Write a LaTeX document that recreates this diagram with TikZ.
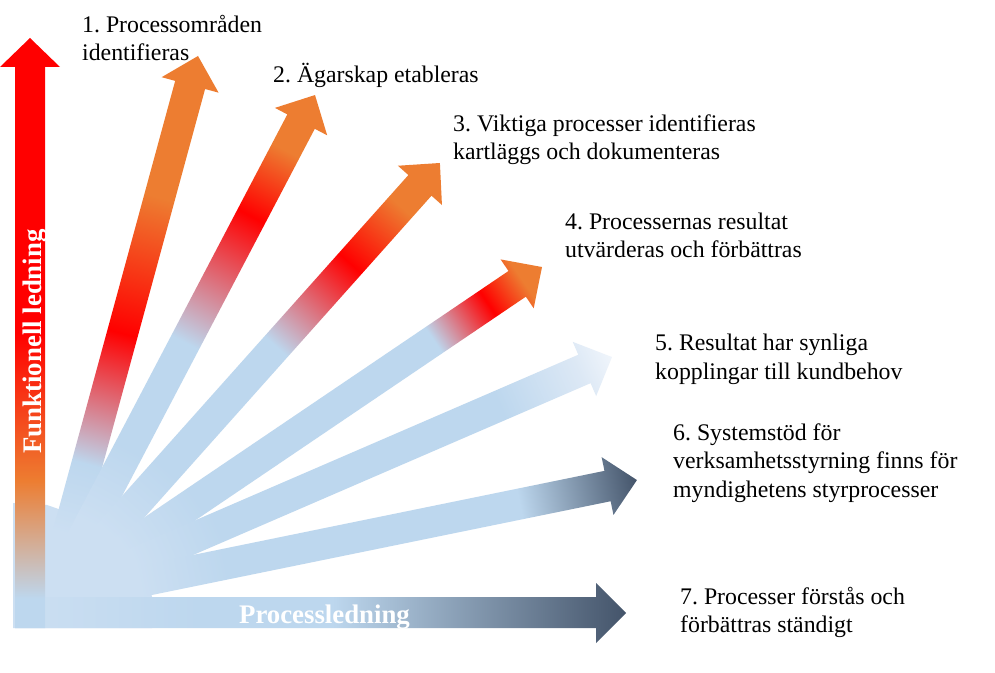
\documentclass[tikz,border=0pt]{standalone}
\usepackage{fontspec}
\setmainfont{Liberation Serif}
\frenchspacing
\definecolor{lblue}{HTML}{BDD7EE}
\definecolor{fpale}{HTML}{CCDFF2}
\definecolor{fred}{HTML}{FF0000}
\definecolor{forange}{HTML}{ED7D31}
\definecolor{slate}{HTML}{44546A}
\definecolor{vpale}{HTML}{DCE8F5}
\definecolor{vwhite}{HTML}{F0F5FB}
\pgfdeclareverticalshading{vshade}{100bp}{color(0bp)=(lblue); color(25bp)=(lblue); color(27.5bp)=(lblue); color(37.5bp)=(forange); color(50bp)=(fred); color(100bp)=(fred)}
\pgfdeclarehorizontalshading{hshade}{100bp}{color(0bp)=(fpale); color(25bp)=(fpale); color(40bp)=(lblue); color(51bp)=(lblue); color(75bp)=(slate); color(100bp)=(slate)}
\pgfdeclarehorizontalshading{fanA}{100bp}{color(0bp)=(fpale); color(25bp)=(fpale); color(31bp)=(fpale); color(37.5bp)=(lblue); color(49.5bp)=(fred); color(62bp)=(forange); color(100bp)=(forange)}
\pgfdeclarehorizontalshading{fanB}{100bp}{color(0bp)=(fpale); color(25bp)=(fpale); color(32.5bp)=(fpale); color(40bp)=(lblue); color(50.5bp)=(lblue); color(63bp)=(fred); color(69.5bp)=(forange); color(100bp)=(forange)}
\pgfdeclarehorizontalshading{fanC}{100bp}{color(0bp)=(fpale); color(25bp)=(fpale); color(32.5bp)=(fpale); color(40bp)=(lblue); color(54bp)=(lblue); color(63.5bp)=(fred); color(70bp)=(forange); color(100bp)=(forange)}
\pgfdeclarehorizontalshading{fanD}{100bp}{color(0bp)=(fpale); color(25bp)=(fpale); color(32.5bp)=(fpale); color(40bp)=(lblue); color(64bp)=(lblue); color(69.5bp)=(fred); color(73bp)=(forange); color(100bp)=(forange)}
\pgfdeclarehorizontalshading{fanE}{100bp}{color(0bp)=(fpale); color(25bp)=(fpale); color(32.5bp)=(fpale); color(40bp)=(lblue); color(65bp)=(lblue); color(72bp)=(vpale); color(75bp)=(vwhite); color(100bp)=(vwhite)}
\pgfdeclarehorizontalshading{fanF}{100bp}{color(0bp)=(fpale); color(25bp)=(fpale); color(32.5bp)=(fpale); color(40bp)=(lblue); color(65bp)=(lblue); color(75bp)=(slate); color(100bp)=(slate)}
\newcommand\myfanarrow[3]{%
  \begin{scope}[transform canvas={shift={(50,72)},rotate=#1}]
    \shade[shading=#3] (0,-15.5) -- ({#2-30},-15.5) -- ({#2-30},-29.5) -- (#2,0) -- ({#2-30},29.5) -- ({#2-30},15.5) -- (0,15.5) -- cycle;
  \end{scope}}
\newcommand\mylblfont{\fontsize{23.8}{28.5}\selectfont}
\newcommand\myboldfont{\fontsize{26.8}{30}\selectfont\bfseries}
\tikzset{
  lbl/.style={anchor=north west, inner sep=0pt, align=left, font=\mylblfont, text=black},
  axislbl/.style={inner sep=0pt, anchor=base, font=\myboldfont, text=white}
}
\begin{document}
\begin{tikzpicture}[x=1pt,y=1pt]
\useasboundingbox (0,0) rectangle (995,672);
\fill[white] (0,0) rectangle (995,672);
% corner blob
\fill[fpale] (13,169) -- (47,167) -- (110,145) -- (147,95) -- (152,75) -- (152,44) -- (13,44) -- cycle;
% fan arrows
\myfanarrow{74.78}{563.8}{fanA}
\myfanarrow{62.31}{570.3}{fanB}
\myfanarrow{48.26}{585.7}{fanC}
\myfanarrow{34.09}{594.1}{fanD}
\myfanarrow{23.38}{612.3}{fanE}
\myfanarrow{11.55}{599.1}{fanF}
% horizontal arrow
\shade[shading=hshade] (15,44) -- (596,44) -- (596,29) -- (626,59) -- (596,89) -- (596,75) -- (15,75) -- cycle;
% vertical arrow
\shade[shading=vshade] (15,44) -- (45,44) -- (45,605) -- (60,605) -- (30,634) -- (0,605) -- (15,605) -- cycle;
% axis labels
\node[axislbl, rotate=90] (vl) at (41,330.5) {Funktionell ledning};
\node[axislbl] (hl) at (324.5,48.7) {Processledning};
% step labels
\node[lbl] (l1) at (82,660) {\strut 1. Processområden\\identifieras};
\node[lbl] (l2) at (273,609.3) {\strut 2. Ägarskap etableras};
\node[lbl] (l3) at (453,561) {\strut 3. Viktiga processer identifieras\\kartläggs och dokumenteras};
\node[lbl] (l4) at (565,463) {\strut 4. Processernas resultat\\utvärderas och förbättras};
\node[lbl] (l5) at (655,341.5) {\strut 5. Resultat har synliga\\kopplingar till kundbehov};
\node[lbl] (l6) at (673,252) {\strut 6. Systemstöd för\\verksamhetsstyrning finns för\\myndighetens styrprocesser};
\node[lbl] (l7) at (680,88) {\strut 7. Processer förstås och\\förbättras ständigt};
\end{tikzpicture}
\end{document}
